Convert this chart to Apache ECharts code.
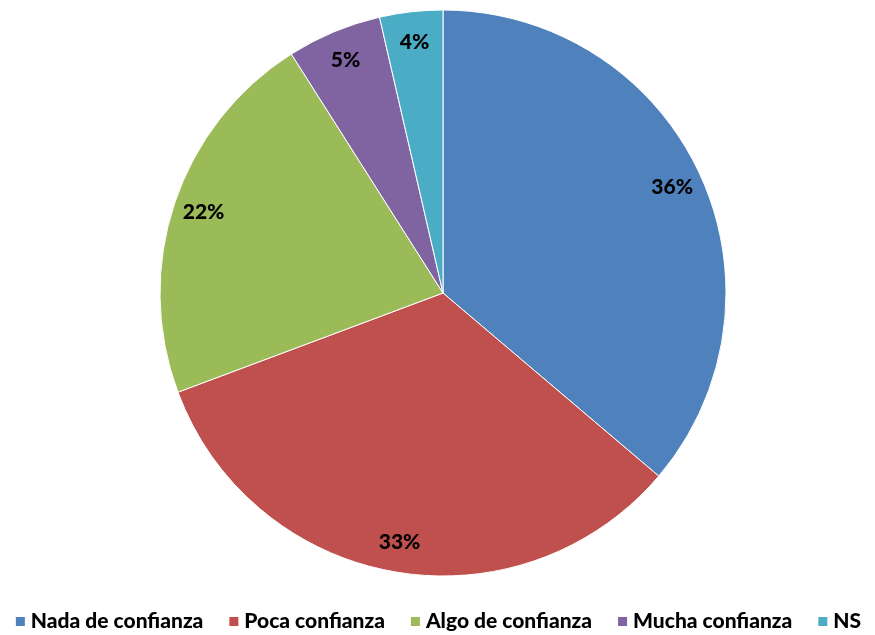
<!DOCTYPE html>
<html><head><meta charset="utf-8">
<script src="https://cdn.jsdelivr.net/npm/echarts@6/dist/echarts.min.js"></script>
<style>html,body{margin:0;padding:0;background:#fff}#c{width:875px;height:635px}</style>
</head><body><div id="c"></div>
<script>
const categories = ['Nada de confianza', 'Poca confianza', 'Algo de confianza', 'Mucha confianza', 'NS'];
const values = [36.2, 33.1, 21.7, 5.4, 3.6];
const colors = ['#4F81BD', '#C0504D', '#9BBB59', '#8064A2', '#4BACC6'];

const data = categories.map((n, i) => ({ name: n, value: values[i], itemStyle: { color: colors[i] } }));
const labelData = categories.map((n, i) => ({ name: n, value: values[i] }));

const chart = echarts.init(document.getElementById('c'));
chart.setOption({
  animation: false,
  legend: {
    bottom: -2,
    left: 'center',
    itemWidth: 11,
    itemHeight: 11,
    itemGap: 24,
    icon: 'rect',
    textStyle: { fontFamily: 'Lato', fontWeight: 900, fontSize: 21, color: '#000' },
    data: categories
  },
  series: [
    {
      type: 'pie',
      center: [443, 293],
      radius: [0, 283],
      startAngle: 90,
      clockwise: true,
      silent: true,
      label: { show: false },
      labelLine: { show: false },
      itemStyle: { borderColor: '#fff', borderWidth: 1 },
      data: data
    },
    {
      type: 'pie',
      center: [443, 293],
      radius: [216, 283],
      startAngle: 90,
      clockwise: true,
      silent: true,
      itemStyle: { color: 'rgba(0,0,0,0)' },
      label: {
        show: true,
        position: 'inside',
        formatter: p => Math.round(p.value) + '%',
        fontFamily: 'Lato',
        fontWeight: 900,
        fontSize: 21,
        color: '#000'
      },
      labelLine: { show: false },
      data: labelData
    }
  ]
});
</script></body></html>
